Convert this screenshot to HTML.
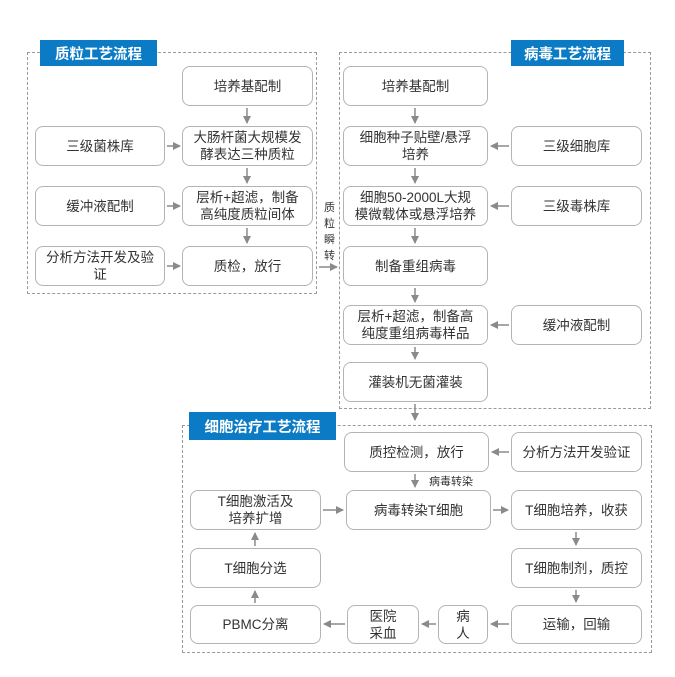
<!DOCTYPE html>
<html><head><meta charset="utf-8"><style>
body{margin:0;width:675px;height:677px;background:#fff;position:relative;overflow:hidden;font-family:"Liberation Sans","Noto Sans CJK SC",sans-serif;}
.b{position:absolute;border:1px solid #b4b4b4;border-radius:8px;background:#fff;display:flex;align-items:center;justify-content:center;text-align:center;font-size:13.5px;line-height:17px;color:#333;box-sizing:border-box;}
.d{position:absolute;border:1px dashed #9a9a9a;box-sizing:border-box;}
.t{position:absolute;background:#0a7bc4;color:#fff;font-weight:bold;font-size:14.5px;display:flex;align-items:center;justify-content:center;}
.l{position:absolute;font-size:11px;color:#333;line-height:16px;}
svg{position:absolute;left:0;top:0;}
</style></head><body>
<div class="d" style="left:27px;top:52px;width:290px;height:242px"></div>
<div class="d" style="left:339px;top:52px;width:312px;height:357px"></div>
<div class="d" style="left:182px;top:425px;width:470px;height:228px"></div>
<div class="t" style="left:40px;top:40px;width:117px;height:26px">质粒工艺流程</div>
<div class="t" style="left:511px;top:40px;width:113px;height:26px">病毒工艺流程</div>
<div class="t" style="left:189px;top:412px;width:147px;height:28px">细胞治疗工艺流程</div>

<div class="b" style="left:182px;top:66px;width:131px;height:40px">培养基配制</div>
<div class="b" style="left:35px;top:126px;width:130px;height:40px">三级菌株库</div>
<div class="b" style="left:182px;top:126px;width:131px;height:40px">大肠杆菌大规模发<br>酵表达三种质粒</div>
<div class="b" style="left:35px;top:186px;width:130px;height:40px">缓冲液配制</div>
<div class="b" style="left:182px;top:186px;width:131px;height:40px">层析+超滤，制备<br>高纯度质粒间体</div>
<div class="b" style="left:35px;top:246px;width:130px;height:40px">分析方法开发及验<br>证</div>
<div class="b" style="left:182px;top:246px;width:131px;height:40px">质检，放行</div>
<div class="l" style="left:324px;top:200px;width:14px;font-size:11px">质<br>粒<br>瞬<br>转</div>

<div class="b" style="left:343px;top:66px;width:145px;height:40px">培养基配制</div>
<div class="b" style="left:343px;top:126px;width:145px;height:40px">细胞种子贴壁/悬浮<br>培养</div>
<div class="b" style="left:511px;top:126px;width:131px;height:40px">三级细胞库</div>
<div class="b" style="left:343px;top:186px;width:145px;height:40px">细胞50-2000L大规<br>模微载体或悬浮培养</div>
<div class="b" style="left:511px;top:186px;width:131px;height:40px">三级毒株库</div>
<div class="b" style="left:343px;top:246px;width:145px;height:40px">制备重组病毒</div>
<div class="b" style="left:343px;top:305px;width:145px;height:40px">层析+超滤，制备高<br>纯度重组病毒样品</div>
<div class="b" style="left:511px;top:305px;width:131px;height:40px">缓冲液配制</div>
<div class="b" style="left:343px;top:362px;width:145px;height:40px">灌装机无菌灌装</div>

<div class="b" style="left:344px;top:432px;width:145px;height:40px">质控检测，放行</div>
<div class="b" style="left:511px;top:432px;width:131px;height:40px">分析方法开发验证</div>
<div class="l" style="left:429px;top:474px">病毒转染</div>
<div class="b" style="left:190px;top:490px;width:131px;height:40px">T细胞激活及<br>培养扩增</div>
<div class="b" style="left:346px;top:490px;width:145px;height:40px">病毒转染T细胞</div>
<div class="b" style="left:511px;top:490px;width:131px;height:40px">T细胞培养，收获</div>
<div class="b" style="left:190px;top:548px;width:131px;height:40px">T细胞分选</div>
<div class="b" style="left:511px;top:548px;width:131px;height:40px">T细胞制剂，质控</div>
<div class="b" style="left:190px;top:605px;width:131px;height:39px">PBMC分离</div>
<div class="b" style="left:347px;top:605px;width:72px;height:39px">医院<br>采血</div>
<div class="b" style="left:438px;top:605px;width:50px;height:39px">病<br>人</div>
<div class="b" style="left:511px;top:605px;width:131px;height:39px">运输，回输</div>

<svg width="675" height="677" stroke="#8a8a8a" stroke-width="1.5" fill="#8a8a8a">
<defs><marker id="a" markerWidth="8" markerHeight="8" refX="7" refY="4" orient="auto" markerUnits="userSpaceOnUse"><path d="M0,0 L8,4 L0,8z" stroke="none"/></marker></defs>
<g marker-end="url(#a)">
<line x1="247" y1="108" x2="247" y2="123"/>
<line x1="247" y1="168" x2="247" y2="183"/>
<line x1="247" y1="228" x2="247" y2="243"/>
<line x1="167" y1="146" x2="180" y2="146"/>
<line x1="167" y1="206" x2="180" y2="206"/>
<line x1="167" y1="266" x2="180" y2="266"/>
<line x1="319" y1="267" x2="337" y2="267"/>
<line x1="415" y1="108" x2="415" y2="123"/>
<line x1="415" y1="168" x2="415" y2="183"/>
<line x1="415" y1="228" x2="415" y2="243"/>
<line x1="415" y1="288" x2="415" y2="302"/>
<line x1="415" y1="347" x2="415" y2="359"/>
<line x1="509" y1="146" x2="491" y2="146"/>
<line x1="509" y1="206" x2="491" y2="206"/>
<line x1="509" y1="325" x2="491" y2="325"/>
<line x1="415" y1="404" x2="415" y2="420"/>
<line x1="509" y1="452" x2="492" y2="452"/>
<line x1="415" y1="474" x2="415" y2="487"/>
<line x1="323" y1="510" x2="343" y2="510"/>
<line x1="493" y1="510" x2="508" y2="510"/>
<line x1="576" y1="532" x2="576" y2="545"/>
<line x1="576" y1="590" x2="576" y2="602"/>
<line x1="509" y1="624" x2="491" y2="624"/>
<line x1="436" y1="624" x2="422" y2="624"/>
<line x1="345" y1="624" x2="324" y2="624"/>
<line x1="255" y1="603" x2="255" y2="591"/>
<line x1="255" y1="546" x2="255" y2="533"/>
</g></svg>
</body></html>
